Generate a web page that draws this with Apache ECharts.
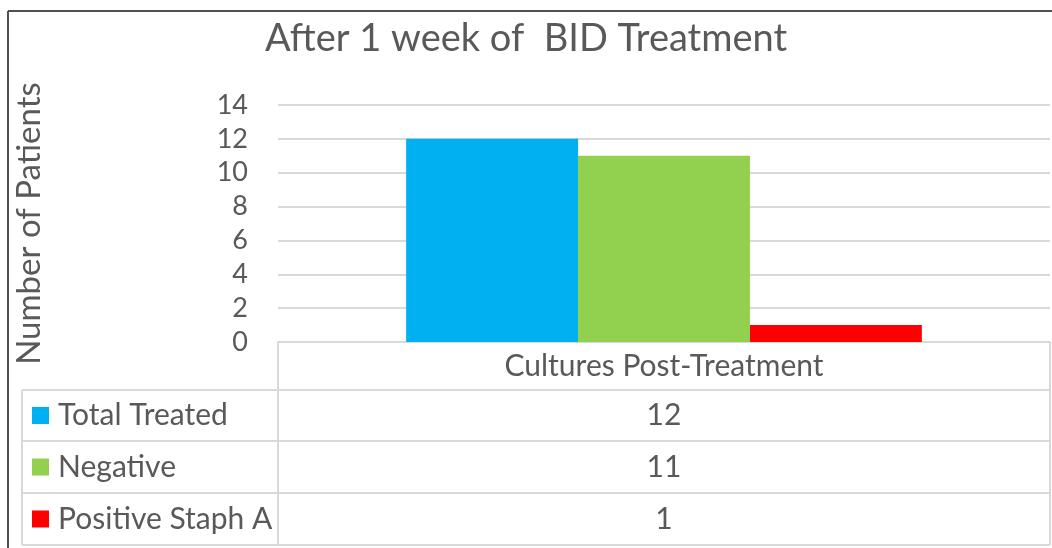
<!DOCTYPE html>
<html>
<style>
    body {
        margin: 0px;
        overflow: hidden;
        background: #ffffff;
    }

    #mainReport {
        width: 1052px;
        height: 548px;
    }
</style>

<head>
    <meta charset="utf-8" />
    <script src="https://cdn.jsdelivr.net/npm/echarts@6.0.0/dist/echarts.min.js"></script>
</head>

<body>
    <div id="mainReport"></div>
</body>

<script type="text/javascript">
    var chartTitle = 'After 1 week of  BID Treatment';
    var yAxisName = 'Number of Patients';
    var categories = ['Cultures Post-Treatment'];
    var seriesNames = ['Total Treated', 'Negative', 'Positive Staph A'];
    var seriesColors = ['#00B0F0', '#92D050', '#FF0000'];
    var totalTreated = [12];
    var negative = [11];
    var positiveStaph = [1];
    var seriesValues = [totalTreated, negative, positiveStaph];

    var textColor = '#595959';
    var lineColor = '#d9d9d9';
    var font = 'Lato, "Open Sans", sans-serif';

    // table rows under the plot
    var tableLeft = 22, tableMid = 278, tableRight = 1050;
    var rowTops = [342, 390, 441, 493, 545];

    var mainReport = echarts.init(document.getElementById('mainReport'));

    var series = [];
    for (var i = 0; i < seriesNames.length; i++) {
        series.push({
            name: seriesNames[i],
            type: 'bar',
            data: seriesValues[i],
            itemStyle: { color: seriesColors[i] },
            barGap: '0%',
            barCategoryGap: '33.2%'
        });
    }

    var option = {
        animation: false,
        backgroundColor: '#ffffff',
        title: {
            text: chartTitle,
            left: 'center',
            top: 15,
            textStyle: { fontFamily: font, fontWeight: 'normal', fontSize: 38, color: textColor }
        },
        grid: { left: 278, right: 2, top: 105, bottom: 206 },
        xAxis: {
            type: 'category',
            data: categories,
            axisLine: { show: true, lineStyle: { color: lineColor, width: 2 } },
            axisTick: { show: false },
            axisLabel: { margin: 9, fontFamily: font, fontSize: 30, color: textColor }
        },
        yAxis: {
            type: 'value',
            min: 0,
            max: 14,
            interval: 2,
            name: yAxisName,
            nameLocation: 'middle',
            nameGap: 232,
            nameTextStyle: { fontFamily: font, fontSize: 33, color: textColor },
            axisLabel: { margin: 30, fontFamily: font, fontSize: 27, color: textColor },
            splitLine: { lineStyle: { color: lineColor, width: 2 } }
        },
        series: series
    };
    mainReport.setOption(option);

    // data table drawn below the axis
    var graphics = [];
    // outer chart border (top and left)
    graphics.push({ type: 'line', shape: { x1: 8, y1: 11, x2: 1052, y2: 11 }, style: { stroke: '#505050', lineWidth: 2 } });
    graphics.push({ type: 'line', shape: { x1: 8, y1: 11, x2: 8, y2: 548 }, style: { stroke: '#505050', lineWidth: 2 } });
    // horizontal lines
    for (var r = 1; r < rowTops.length; r++) {
        graphics.push({ type: 'line', shape: { x1: tableLeft, y1: rowTops[r], x2: tableRight, y2: rowTops[r] }, style: { stroke: lineColor, lineWidth: 2 } });
    }
    // vertical lines
    graphics.push({ type: 'line', shape: { x1: tableLeft, y1: rowTops[1], x2: tableLeft, y2: rowTops[4] }, style: { stroke: lineColor, lineWidth: 2 } });
    graphics.push({ type: 'line', shape: { x1: tableMid, y1: rowTops[0], x2: tableMid, y2: rowTops[4] }, style: { stroke: lineColor, lineWidth: 2 } });
    graphics.push({ type: 'line', shape: { x1: tableRight, y1: rowTops[0], x2: tableRight, y2: rowTops[4] }, style: { stroke: lineColor, lineWidth: 2 } });

    var colX = mainReport.convertToPixel({ xAxisIndex: 0 }, categories[0]);
    for (var s = 0; s < seriesNames.length; s++) {
        var cy = (rowTops[s + 1] + rowTops[s + 2]) / 2;
        graphics.push({ type: 'rect', shape: { x: 32, y: cy - 8.5, width: 17, height: 17 }, style: { fill: seriesColors[s] } });
        graphics.push({
            type: 'text', x: 58, y: cy,
            style: { text: seriesNames[s], fontFamily: font, fontSize: 30, fill: textColor, verticalAlign: 'middle', align: 'left' }
        });
        graphics.push({
            type: 'text', x: colX, y: cy,
            style: { text: String(seriesValues[s][0]), fontFamily: font, fontSize: 30, fill: textColor, verticalAlign: 'middle', align: 'center' }
        });
    }
    mainReport.setOption({ graphic: graphics });
</script>

</html>
